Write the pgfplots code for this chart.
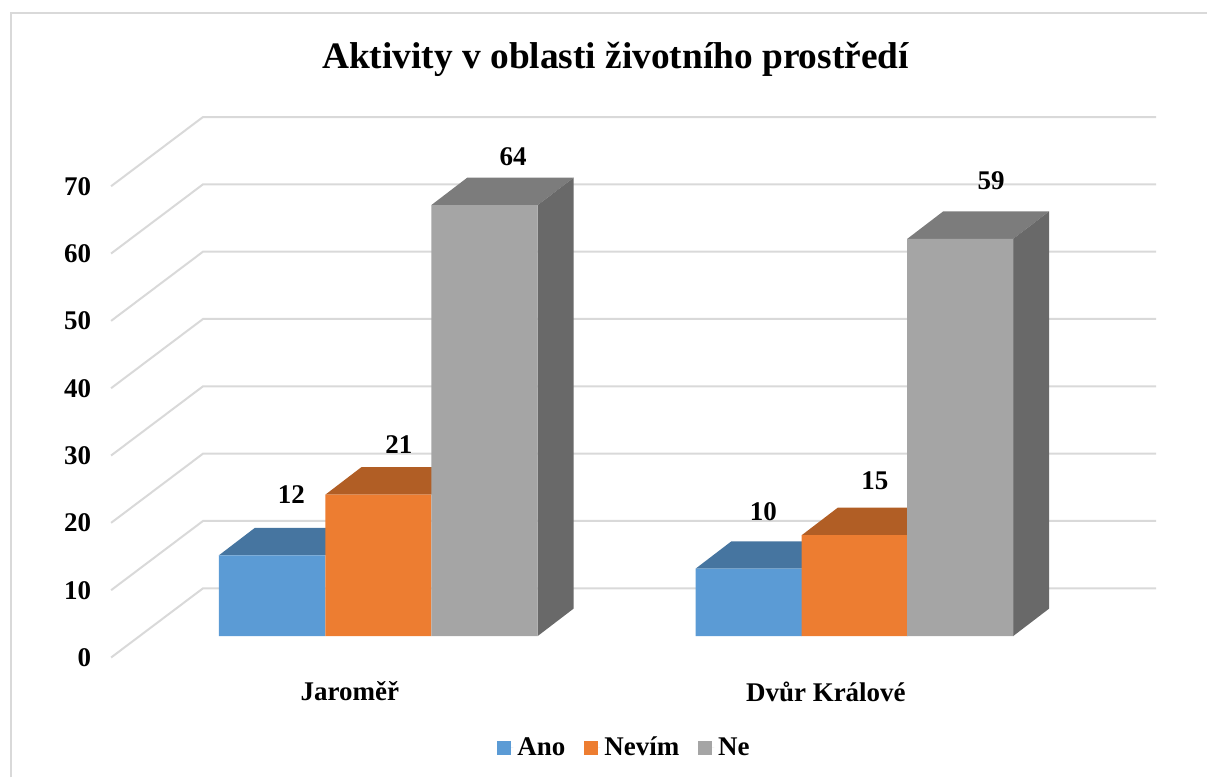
\documentclass[border=0pt]{standalone}
\usepackage{fontspec}
\setmainfont{Liberation Serif}
\usepackage{pgfplots}
\pgfplotsset{compat=1.18}
\definecolor{AnoF}{HTML}{5B9BD5}
\definecolor{AnoT}{HTML}{4675A0}
\definecolor{NevF}{HTML}{ED7D31}
\definecolor{NevT}{HTML}{B15E25}
\definecolor{NeF}{HTML}{A5A5A5}
\definecolor{NeT}{HTML}{7C7C7C}
\definecolor{NeS}{HTML}{696969}
\definecolor{GridC}{HTML}{D9D9D9}
\newcommand{\lab}{\fontsize{13.5}{16}\selectfont\bfseries}
\begin{document}
\begin{tikzpicture}
% x runs in picture pixels, y in chart values (front plane, 0 = bar foot)
\begin{axis}[
  scale only axis, width=604pt, height=389pt,
  xmin=0, xmax=1208, ymin=-21, ymax=94.44,
  clip=false,
  axis line style={draw=none},
  major tick length=0pt,
  ytick={-3.19,6.81,16.81,26.81,36.81,46.81,56.81,66.81},
  yticklabels={0,10,20,30,40,50,60,70},
  yticklabel style={font=\lab,anchor=east,xshift=49pt},
  xtick={350,826.5},
  xticklabels={Jaroměř,Dvůr Králové},
  xticklabel style={font=\lab,anchor=center,yshift=43pt},
  legend columns=3,
  legend style={at={(axis cs:626,-16.6)},anchor=center,draw=none,fill=none,
    font=\lab,inner sep=0pt,/tikz/every even column/.append style={column sep=7.5pt}},
  legend image code/.code={\fill[#1] (0pt,-3.5pt) rectangle (7pt,3.5pt);\path (0pt,0pt) -- (8pt,0pt);},
]
% outer frame, open at right and bottom
\addplot[forget plot,GridC,line width=1pt] coordinates {(11,-21) (11,92.5) (1208,92.5)};
% wall gridlines
\addplot[forget plot,GridC,line width=1pt] coordinates {(111,-3.19) (203,7.09) (1157,7.09)};
\addplot[forget plot,GridC,line width=1pt] coordinates {(111,6.81) (203,17.09) (1157,17.09)};
\addplot[forget plot,GridC,line width=1pt] coordinates {(111,16.81) (203,27.09) (1157,27.09)};
\addplot[forget plot,GridC,line width=1pt] coordinates {(111,26.81) (203,37.09) (1157,37.09)};
\addplot[forget plot,GridC,line width=1pt] coordinates {(111,36.81) (203,47.09) (1157,47.09)};
\addplot[forget plot,GridC,line width=1pt] coordinates {(111,46.81) (203,57.09) (1157,57.09)};
\addplot[forget plot,GridC,line width=1pt] coordinates {(111,56.81) (203,67.09) (1157,67.09)};
\addplot[forget plot,GridC,line width=1pt] coordinates {(111,66.81) (203,77.09) (1157,77.09)};
% Ano
\addplot[forget plot,fill=AnoT,draw=none] coordinates {(219,12) (325.5,12) (361.5,16.08) (255,16.08)};
\addplot[forget plot,fill=AnoT,draw=none] coordinates {(696,10) (802.5,10) (838.5,14.08) (732,14.08)};
\addplot[ybar,bar shift=0pt,bar width=106.5,fill=AnoF,draw=none,color=AnoF] coordinates {(272.25,12) (749.25,10)};
\addlegendentry{Ano}
% Nevím
\addplot[forget plot,fill=NevT,draw=none] coordinates {(325.5,21) (431.5,21) (467.5,25.08) (361.5,25.08)};
\addplot[forget plot,fill=NevT,draw=none] coordinates {(802.5,15) (908,15) (944,19.08) (838.5,19.08)};
\addplot[ybar,bar shift=0pt,bar width=106,fill=NevF,draw=none,color=NevF] coordinates {(378.5,21) (855.25,15)};
\addlegendentry{Nevím}
% Ne
\addplot[forget plot,fill=NeT,draw=none] coordinates {(431.5,64) (538,64) (574,68.08) (467.5,68.08)};
\addplot[forget plot,fill=NeT,draw=none] coordinates {(908,59) (1014,59) (1050,63.08) (944,63.08)};
\addplot[forget plot,fill=NeS,draw=none] coordinates {(538,0) (574,4.08) (574,68.08) (538,64)};
\addplot[forget plot,fill=NeS,draw=none] coordinates {(1014,0) (1050,4.08) (1050,63.08) (1014,59)};
\addplot[ybar,bar shift=0pt,bar width=106.5,fill=NeF,draw=none,color=NeF] coordinates {(484.75,64) (961,59)};
\addlegendentry{Ne}
% data labels
\node[font=\lab] at (axis cs:291.5,21.0) {12};
\node[font=\lab] at (axis cs:399,28.41) {21};
\node[font=\lab] at (axis cs:513.5,71.14) {64};
\node[font=\lab] at (axis cs:764,18.47) {10};
\node[font=\lab] at (axis cs:875.5,23.07) {15};
\node[font=\lab] at (axis cs:992,67.58) {59};
% title
\node[font=\fontsize{18.7}{22}\selectfont\bfseries] at (axis cs:616,85.6) {Aktivity v oblasti životního prostředí};
\path (axis cs:0,-21) rectangle (axis cs:1208,94.44);
\end{axis}
\end{tikzpicture}
\end{document}
